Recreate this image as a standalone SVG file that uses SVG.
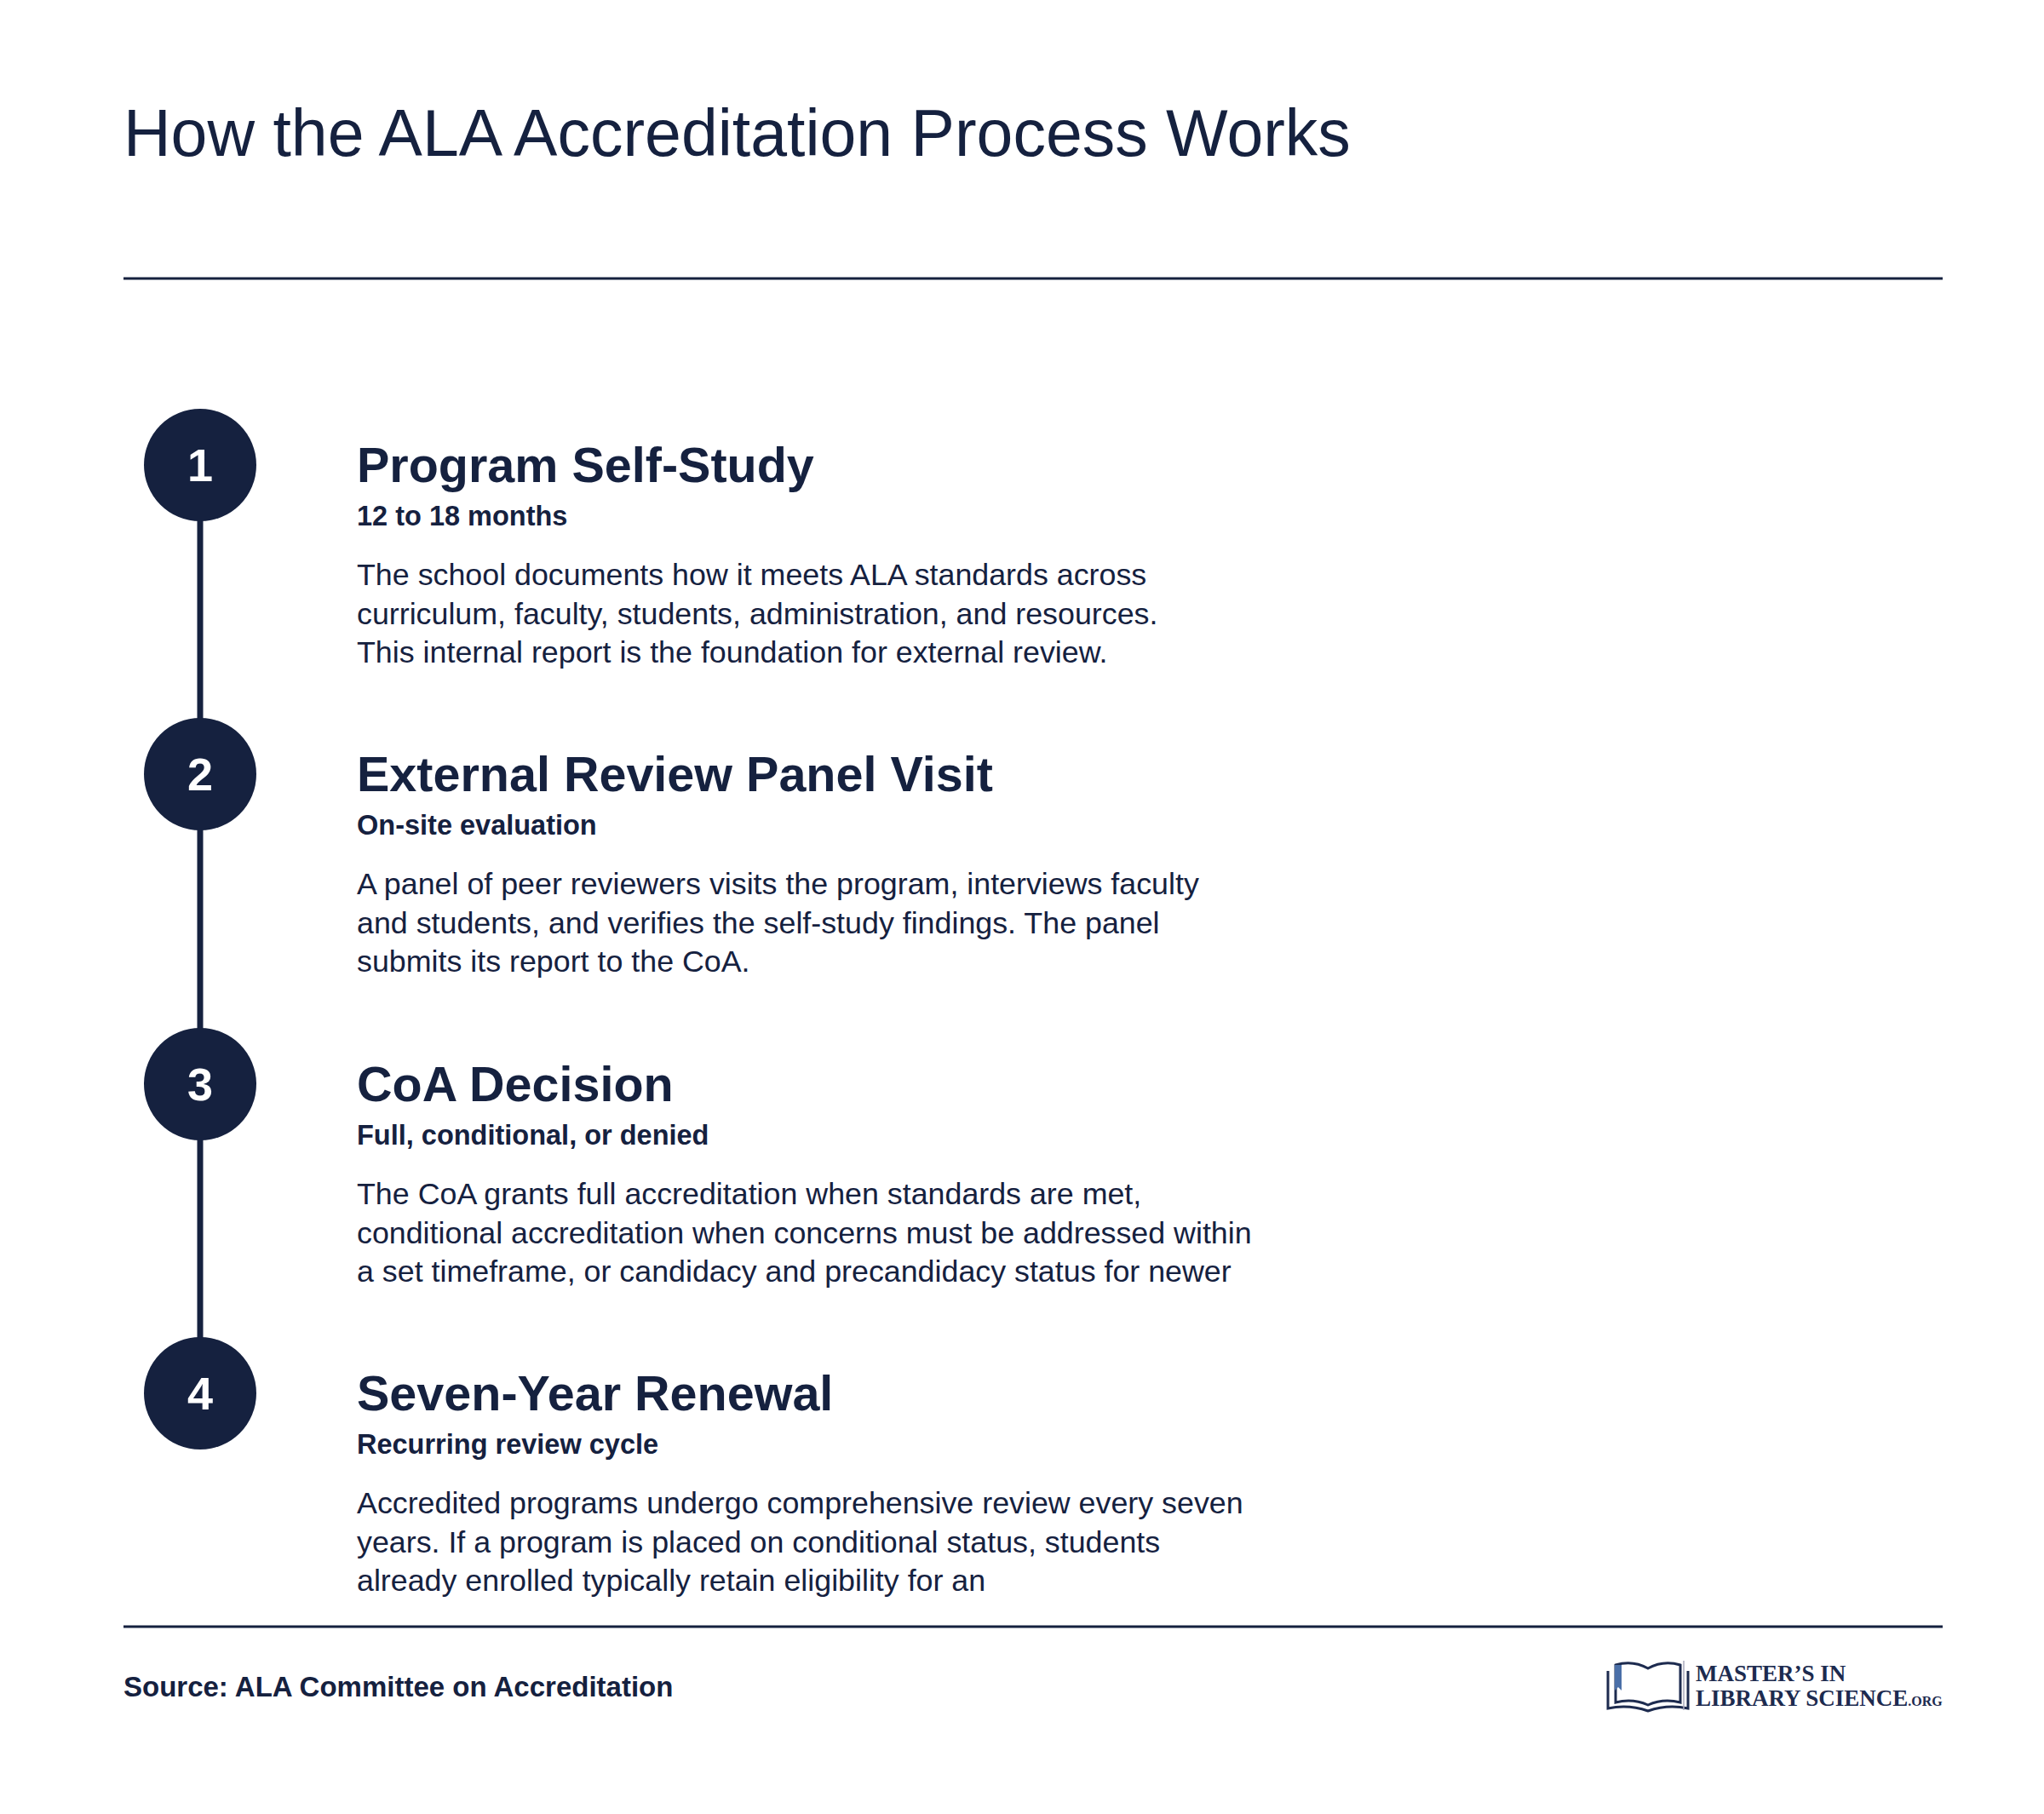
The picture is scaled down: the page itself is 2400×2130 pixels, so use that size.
<svg xmlns="http://www.w3.org/2000/svg" width="2400" height="2130" viewBox="0 0 2400 2130">
<style>
text{font-family:"Liberation Sans",Arial,sans-serif;fill:#15213f}
.h{font-size:57.5px;font-weight:bold}
.s{font-size:32.5px;font-weight:bold}
.b{font-size:35.8px}
.n{font-size:54px;font-weight:bold;fill:#fff;text-anchor:middle}
.c{fill:#15213f}
.logo{font-family:"Liberation Serif",serif;font-size:27px;font-weight:bold;fill:#1d2b4f}
</style>
<rect width="2400" height="2130" fill="#fff"/>
<text x="145" y="183" style="font-size:77px">How the ALA Accreditation Process Works</text>
<line x1="145" y1="327" x2="2281" y2="327" stroke="#15213f" stroke-width="3"/>
<g id="connectors"><line x1="235" y1="546" x2="235" y2="1636" stroke="#15213f" stroke-width="7"/></g>
<g id="step1"><circle class="c" cx="235" cy="546" r="66"/><text class="n" x="235" y="565">1</text>
<text class="h" x="419" y="566">Program Self-Study</text><text class="s" x="419" y="617">12 to 18 months</text>
<text class="b" x="419" y="687">The school documents how it meets ALA standards across</text>
<text class="b" x="419" y="733">curriculum, faculty, students, administration, and resources.</text>
<text class="b" x="419" y="778">This internal report is the foundation for external review.</text></g>
<g id="step2"><circle class="c" cx="235" cy="909" r="66"/><text class="n" x="235" y="928">2</text>
<text class="h" x="419" y="929">External Review Panel Visit</text><text class="s" x="419" y="980">On-site evaluation</text>
<text class="b" x="419" y="1050">A panel of peer reviewers visits the program, interviews faculty</text>
<text class="b" x="419" y="1096">and students, and verifies the self-study findings. The panel</text>
<text class="b" x="419" y="1141">submits its report to the CoA.</text></g>
<g id="step3"><circle class="c" cx="235" cy="1273" r="66"/><text class="n" x="235" y="1292">3</text>
<text class="h" x="419" y="1293">CoA Decision</text><text class="s" x="419" y="1344">Full, conditional, or denied</text>
<text class="b" x="419" y="1414">The CoA grants full accreditation when standards are met,</text>
<text class="b" x="419" y="1460">conditional accreditation when concerns must be addressed within</text>
<text class="b" x="419" y="1505">a set timeframe, or candidacy and precandidacy status for newer</text></g>
<g id="step4"><circle class="c" cx="235" cy="1636" r="66"/><text class="n" x="235" y="1655">4</text>
<text class="h" x="419" y="1656">Seven-Year Renewal</text><text class="s" x="419" y="1707">Recurring review cycle</text>
<text class="b" x="419" y="1777">Accredited programs undergo comprehensive review every seven</text>
<text class="b" x="419" y="1823">years. If a program is placed on conditional status, students</text>
<text class="b" x="419" y="1868">already enrolled typically retain eligibility for an</text></g>
<line x1="145" y1="1910" x2="2281" y2="1910" stroke="#15213f" stroke-width="3"/>
<text class="s" x="145" y="1992" style="font-size:33px">Source: ALA Committee on Accreditation</text>
<g id="logo">
<path d="M1897 1955 q20 -6 38 4 q18 -10 38 -4 v44 q-20 -5 -38 3 q-18 -8 -38 -3z" fill="none" stroke="#1d2b4f" stroke-width="3"/>
<path d="M1888 1962 v44 q24 -5 47 3 q23 -8 47 -3 v-44" fill="none" stroke="#1d2b4f" stroke-width="3"/>
<path d="M1896 1955 h8 v30 l-4 -4 l-4 4z" fill="#4a6fa8"/>
<line x1="1977" y1="1950" x2="1977" y2="2008" stroke="#aab" stroke-width="1.5"/>
<text class="logo" x="1991" y="1974">MASTER’S IN</text>
<text class="logo" x="1991" y="2003">LIBRARY SCIENCE<tspan style="font-size:16px">.ORG</tspan></text>
</g>
</svg>
